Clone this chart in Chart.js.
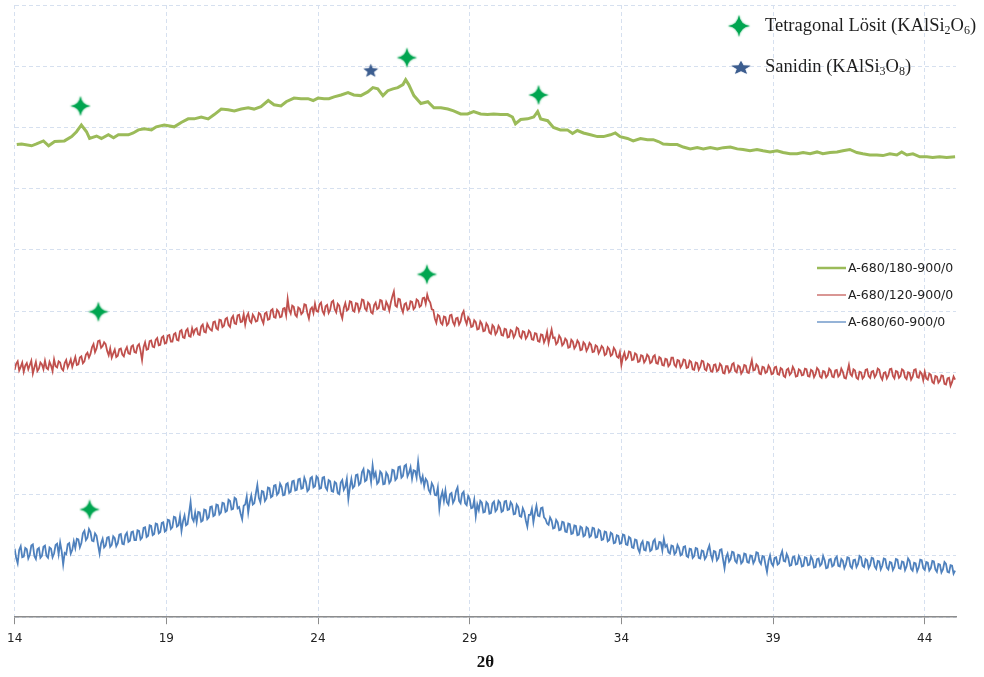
<!DOCTYPE html>
<html lang="tr">
<head>
  <meta charset="UTF-8">
  <title>XRD - A-680 serisi</title>
  <script src="https://cdn.jsdelivr.net/npm/chart.js"></script>
  <style>
    body {
      margin: 0;
      background-color: #FFFFFF;
    }
    canvas {
      display: block;
    }
  </style>
</head>
<body>
  <canvas id="xrdChart" width="984" height="677"></canvas>

  <script>
    // 2θ tick labels on the x axis
    const thetaTicks = [14, 19, 24, 29, 34, 39, 44];

    // A-680/180-900/0 (green trace), read at uneven 2θ steps
    const greenTheta = [
      14.07, 14.23, 14.56, 14.72, 14.95, 15.12, 15.32, 15.64, 15.88, 16.04,
      16.20, 16.37, 16.47, 16.70, 16.86, 17.09, 17.26, 17.42, 17.75, 17.91,
      18.08, 18.28, 18.51, 18.67, 18.93, 19.26, 19.49, 19.72, 19.92, 20.15,
      20.38, 20.58, 20.81, 21.04, 21.24, 21.47, 21.70, 21.89, 22.12, 22.36,
      22.55, 22.78, 22.95, 23.21, 23.44, 23.67, 23.84, 24.00, 24.20, 24.36,
      24.53, 24.76, 24.99, 25.18, 25.41, 25.64, 25.81, 25.97, 26.14, 26.30,
      26.47, 26.63, 26.80, 26.89, 26.99, 27.16, 27.39, 27.62, 27.82, 28.05,
      28.28, 28.47, 28.70, 28.93, 29.13, 29.36, 29.59, 29.79, 30.02, 30.25,
      30.41, 30.51, 30.68, 30.91, 31.11, 31.24, 31.34, 31.57, 31.76, 31.99,
      32.22, 32.39, 32.55, 32.75, 32.98, 33.21, 33.41, 33.64, 33.80, 33.96,
      34.20, 34.39, 34.63, 34.86, 35.05, 35.22, 35.38, 35.61, 35.84, 36.04,
      36.27, 36.50, 36.70, 36.93, 37.16, 37.36, 37.59, 37.82, 38.01, 38.24,
      38.47, 38.67, 38.90, 39.13, 39.33, 39.56, 39.79, 39.99, 40.22, 40.45,
      40.64, 40.88, 41.11, 41.30, 41.53, 41.76, 41.96, 42.19, 42.42, 42.62,
      42.85, 43.08, 43.24, 43.41, 43.61, 43.84, 44.07, 44.26, 44.49, 44.72,
      45.00
    ];
    const greenCounts = [
      772, 773, 770, 773, 778, 770, 777, 778, 785, 793,
      804, 793, 782, 786, 782, 788, 783, 788, 788, 791,
      796, 798, 796, 801, 804, 801, 808, 814, 814, 817,
      814, 821, 830, 829, 827, 830, 832, 830, 834, 844,
      837, 835, 842, 848, 847, 847, 844, 848, 847, 847,
      850, 853, 857, 853, 852, 858, 865, 863, 852, 860,
      863, 865, 870, 878, 870, 852, 839, 842, 832, 832,
      830, 827, 822, 822, 826, 822, 821, 822, 821, 821,
      817, 806, 813, 814, 817, 826, 814, 811, 800, 796,
      796, 790, 795, 791, 788, 785, 785, 788, 791, 785,
      782, 778, 782, 780, 780, 777, 773, 772, 772, 768,
      765, 767, 765, 767, 765, 767, 768, 765, 764, 762,
      764, 762, 760, 762, 759, 757, 757, 759, 757, 760,
      757, 759, 760, 762, 764, 759, 757, 755, 755, 754,
      757, 755, 760, 755, 757, 752, 752, 751, 752, 751,
      752
    ];

    // red and blue traces: one reading every 0.05° from 14.00 to 45.00
    // (each row below is one degree)
    const scanStart = 14;
    const scanStep = 0.05;

    // A-680/120-900/0
    const redCounts = [
      404, 414, 418, 403, 409, 416, 401, 411, 415, 405, 412, 419, 398, 408, 417, 402, 406, 416, 413, 405,
      419, 407, 405, 417, 411, 402, 421, 410, 408, 418, 416, 406, 403, 415, 420, 408, 414, 421, 409, 417,
      425, 412, 413, 424, 426, 415, 418, 429, 432, 424, 430, 441, 446, 433, 439, 451, 452, 440, 443, 449,
      446, 435, 428, 439, 424, 431, 437, 425, 427, 438, 439, 429, 426, 436, 441, 431, 430, 442, 444, 433,
      432, 443, 446, 435, 420, 441, 449, 437, 438, 451, 452, 442, 441, 453, 456, 444, 445, 457, 459, 447,
      448, 460, 461, 450, 450, 462, 464, 453, 452, 467, 469, 457, 456, 468, 471, 459, 458, 472, 463, 470,
      472, 462, 461, 475, 478, 466, 465, 479, 474, 470, 468, 482, 483, 472, 470, 486, 485, 474, 476, 487,
      489, 477, 474, 488, 492, 480, 479, 493, 494, 482, 483, 495, 478, 491, 496, 484, 481, 494, 490, 483,
      484, 497, 495, 486, 480, 496, 498, 486, 487, 501, 503, 490, 489, 502, 499, 490, 491, 504, 505, 493,
      520, 502, 496, 509, 507, 494, 491, 506, 504, 495, 498, 511, 510, 497, 488, 503, 506, 497, 512, 500,
      499, 511, 514, 500, 495, 508, 510, 497, 502, 515, 517, 503, 498, 512, 509, 496, 488, 505, 513, 501,
      503, 516, 515, 501, 499, 513, 512, 500, 506, 519, 518, 504, 501, 514, 511, 498, 496, 510, 514, 503,
      505, 518, 517, 503, 502, 515, 510, 501, 514, 524, 532, 509, 507, 520, 519, 505, 498, 511, 513, 502,
      504, 516, 515, 503, 506, 519, 517, 507, 509, 521, 522, 512, 527, 518, 514, 503, 502, 488, 481, 494,
      492, 481, 478, 491, 490, 477, 480, 493, 494, 482, 477, 488, 489, 478, 483, 495, 500, 486, 479, 490,
      486, 474, 475, 485, 482, 470, 471, 483, 479, 467, 468, 480, 476, 465, 463, 477, 474, 462, 466, 476,
      472, 461, 460, 471, 470, 457, 458, 469, 467, 457, 462, 473, 471, 459, 456, 467, 466, 455, 459, 468,
      465, 454, 453, 464, 463, 451, 450, 462, 461, 449, 455, 466, 448, 459, 470, 456, 457, 446, 449, 460,
      456, 444, 447, 455, 452, 440, 441, 453, 450, 439, 443, 452, 448, 436, 437, 449, 446, 435, 440, 448,
      445, 433, 434, 444, 442, 431, 436, 443, 440, 428, 430, 441, 438, 427, 429, 440, 436, 426, 424, 433,
      412, 425, 432, 421, 424, 434, 433, 420, 421, 431, 429, 417, 418, 428, 427, 416, 420, 429, 426, 415,
      417, 426, 428, 415, 414, 425, 423, 412, 411, 422, 421, 410, 413, 424, 424, 412, 409, 420, 419, 408,
      412, 421, 420, 407, 408, 419, 417, 405, 404, 416, 415, 404, 409, 419, 418, 405, 403, 414, 412, 402,
      401, 412, 413, 402, 404, 414, 411, 399, 398, 410, 410, 400, 403, 413, 415, 402, 400, 411, 409, 398,
      402, 412, 411, 400, 399, 410, 420, 403, 404, 413, 410, 398, 397, 409, 408, 399, 401, 411, 407, 397,
      398, 408, 409, 397, 396, 407, 405, 394, 392, 404, 406, 396, 399, 409, 404, 393, 394, 405, 403, 395,
      396, 406, 405, 394, 393, 404, 402, 392, 397, 407, 404, 393, 391, 402, 401, 392, 395, 406, 403, 393,
      392, 403, 404, 393, 396, 406, 401, 391, 390, 401, 412, 397, 394, 405, 403, 391, 389, 401, 400, 390,
      393, 404, 405, 394, 391, 401, 402, 392, 396, 406, 404, 393, 388, 399, 400, 390, 395, 405, 406, 394,
      390, 402, 401, 391, 394, 405, 403, 392, 389, 400, 399, 388, 393, 404, 405, 392, 391, 401, 398, 387,
      401, 390, 388, 398, 396, 384, 382, 394, 393, 383, 386, 395, 394, 381, 380, 390, 391, 378, 384, 393,
      388
    ];

    // A-680/60-900/0
    const blueCounts = [
      112, 97, 88, 110, 116, 98, 99, 113, 111, 96, 102, 117, 119, 100, 95, 111, 113, 97, 100, 115,
      117, 100, 97, 114, 112, 98, 104, 118, 120, 103, 122, 108, 86, 105, 103, 119, 121, 104, 110, 124,
      113, 128, 127, 114, 121, 137, 141, 126, 130, 144, 139, 125, 124, 137, 133, 118, 104, 121, 128, 114,
      117, 130, 131, 115, 118, 132, 129, 116, 121, 135, 136, 120, 119, 134, 138, 123, 125, 139, 140, 126,
      126, 142, 141, 127, 130, 146, 147, 131, 133, 150, 149, 134, 136, 153, 152, 137, 139, 154, 155, 140,
      142, 159, 158, 144, 147, 164, 163, 148, 150, 165, 141, 157, 166, 150, 152, 170, 188, 162, 157, 171,
      155, 172, 171, 156, 158, 176, 175, 160, 163, 180, 181, 165, 167, 184, 183, 168, 171, 187, 186, 172,
      174, 192, 190, 176, 177, 195, 193, 178, 180, 169, 160, 182, 184, 197, 171, 188, 199, 184, 186, 202,
      216, 195, 188, 206, 205, 190, 194, 212, 211, 196, 198, 215, 216, 200, 203, 218, 213, 199, 200, 217,
      219, 203, 205, 222, 223, 207, 208, 225, 226, 210, 211, 228, 221, 206, 209, 227, 229, 212, 214, 230,
      227, 210, 211, 228, 229, 212, 208, 224, 222, 206, 205, 221, 219, 203, 201, 220, 224, 208, 213, 226,
      193, 212, 226, 211, 214, 232, 233, 216, 219, 237, 242, 222, 224, 240, 238, 221, 248, 229, 236, 218,
      221, 238, 235, 217, 218, 236, 232, 219, 223, 241, 240, 224, 227, 245, 246, 228, 231, 247, 249, 230,
      236, 245, 226, 240, 239, 228, 254, 232, 221, 230, 214, 226, 222, 208, 203, 219, 214, 200, 199, 212,
      177, 196, 205, 190, 207, 188, 184, 201, 203, 187, 192, 206, 212, 190, 186, 202, 205, 186, 183, 198,
      193, 178, 179, 192, 165, 184, 175, 190, 187, 171, 172, 188, 185, 169, 170, 186, 189, 173, 176, 190,
      187, 172, 174, 189, 190, 175, 176, 188, 184, 168, 169, 184, 180, 165, 164, 178, 172, 158, 148, 167,
      167, 177, 155, 170, 182, 166, 165, 178, 179, 163, 160, 153, 151, 163, 158, 145, 146, 159, 155, 142,
      143, 156, 155, 140, 139, 153, 152, 136, 137, 150, 149, 134, 135, 148, 146, 132, 134, 147, 145, 131,
      133, 146, 145, 130, 131, 143, 141, 126, 127, 140, 139, 124, 126, 138, 136, 121, 122, 134, 133, 120,
      121, 135, 134, 119, 118, 131, 129, 114, 113, 127, 126, 112, 106, 120, 124, 110, 109, 123, 122, 108,
      110, 124, 127, 111, 112, 123, 122, 109, 128, 115, 118, 106, 104, 117, 116, 103, 106, 118, 113, 101,
      103, 115, 116, 100, 98, 112, 111, 97, 100, 113, 112, 97, 96, 109, 108, 95, 99, 110, 117, 102,
      94, 108, 107, 93, 97, 110, 111, 95, 80, 98, 104, 91, 95, 107, 106, 92, 89, 102, 101, 88,
      91, 104, 103, 90, 89, 101, 100, 88, 93, 106, 105, 91, 87, 100, 99, 86, 74, 92, 101, 88,
      84, 97, 98, 86, 88, 101, 108, 92, 91, 103, 97, 84, 85, 98, 99, 86, 87, 100, 95, 83,
      84, 98, 97, 85, 86, 99, 94, 81, 82, 95, 96, 84, 87, 100, 93, 80, 81, 94, 95, 83,
      85, 96, 99, 84, 83, 95, 92, 80, 86, 98, 97, 83, 80, 93, 94, 82, 87, 100, 98, 84,
      82, 95, 93, 80, 85, 97, 96, 83, 79, 92, 91, 78, 84, 96, 95, 81, 78, 90, 89, 77,
      82, 95, 94, 80, 79, 91, 90, 77, 83, 96, 92, 79, 76, 89, 88, 75, 81, 94, 93, 80,
      77, 90, 89, 76, 80, 92, 91, 78, 74, 87, 86, 73, 78, 90, 87, 74, 73, 85, 84, 71,
      76
    ];

    // phase markers placed over the peaks
    const leuciteTheta = [16.17, 26.93, 31.27, 16.76, 27.59, 16.47];
    const leuciteCounts = [835, 914, 853, 499, 560, 176];
    const sanidinTheta = [25.74];
    const sanidinCounts = [894];

    const seriesLabels = ['A-680/180-900/0', 'A-680/120-900/0', 'A-680/60-900/0'];
    const seriesColors = ['#9BBB59', '#C0504D', '#4F81BD'];

    const gridColor = '#D6E0EF';
    const axisColor = '#8C8C8C';

    function toPoints(xs, ys) {
      return ys.map((y, i) => ({ x: xs[i], y: y }));
    }
    function scanPoints(ys) {
      return ys.map((y, i) => ({ x: +(scanStart + i * scanStep).toFixed(2), y: y }));
    }

    // four-pointed sparkle (tetragonal leucite)
    function makeSparkle(size, color) {
      const c = document.createElement('canvas');
      c.width = c.height = size;
      const g = c.getContext('2d');
      const r = size / 2 - 1;
      const k = r * 0.1;
      g.translate(size / 2, size / 2);
      g.fillStyle = color;
      g.shadowColor = color;
      g.shadowBlur = 2;
      g.beginPath();
      g.moveTo(0, -r);
      g.quadraticCurveTo(k, -k, r, 0);
      g.quadraticCurveTo(k, k, 0, r);
      g.quadraticCurveTo(-k, k, -r, 0);
      g.quadraticCurveTo(-k, -k, 0, -r);
      g.closePath();
      g.fill();
      return c;
    }

    // five-pointed star (sanidine)
    function makeStar(w, h, color) {
      const c = document.createElement('canvas');
      c.width = w;
      c.height = h;
      const g = c.getContext('2d');
      const ro = w / 2 - 1;
      const ri = ro * 0.42;
      g.translate(w / 2, h / 2 + 1);
      g.scale(1, (h - 2) / (w - 2));
      g.fillStyle = color;
      g.shadowColor = color;
      g.shadowBlur = 1;
      g.beginPath();
      for (let i = 0; i < 10; i++) {
        const rad = i % 2 === 0 ? ro : ri;
        const a = -Math.PI / 2 + i * Math.PI / 5;
        const px = Math.cos(a) * rad;
        const py = Math.sin(a) * rad;
        if (i === 0) g.moveTo(px, py); else g.lineTo(px, py);
      }
      g.closePath();
      g.fill();
      return c;
    }

    const sparkleImg = makeSparkle(22, '#00A550');
    const starImg = makeStar(17, 16, '#3C5D8F');
    const sparkleKey = makeSparkle(24, '#00A550');
    const starKey = makeStar(22, 16, '#3C5D8F');

    // text with subscript digits
    function drawRich(ctx, parts, x, y, size) {
      ctx.textBaseline = 'middle';
      ctx.textAlign = 'left';
      ctx.fillStyle = '#1E1E1E';
      parts.forEach(p => {
        const sub = typeof p === 'object';
        const t = sub ? p.sub : p;
        ctx.font = (sub ? Math.round(size * 0.66) : size) + 'px "Liberation Serif", "Times New Roman", serif';
        ctx.fillText(t, x, sub ? y + size * 0.24 : y);
        x += ctx.measureText(t).width;
      });
    }

    const keysPlugin = {
      id: 'keys',
      afterDraw(chart) {
        const ctx = chart.ctx;
        ctx.save();
        // phase key, top right
        ctx.drawImage(sparkleKey, 739 - 12, 26 - 12);
        drawRich(ctx, ['Tetragonal Lösit (KAlSi', { sub: '2' }, 'O', { sub: '6' }, ')'], 765, 26, 18.5);
        ctx.drawImage(starKey, 741 - 11, 67 - 8);
        drawRich(ctx, ['Sanidin (KAlSi', { sub: '3' }, 'O', { sub: '8' }, ')'], 765, 67, 18.5);

        // series key
        const rows = [268, 295, 322];
        chart.data.datasets.slice(0, 3).forEach((ds, i) => {
          ctx.strokeStyle = ds.borderColor;
          ctx.lineWidth = i === 0 ? 2.5 : 1.2;
          ctx.beginPath();
          ctx.moveTo(817, rows[i]);
          ctx.lineTo(846, rows[i]);
          ctx.stroke();
          ctx.fillStyle = '#222222';
          ctx.font = '12.5px "DejaVu Sans", Tahoma, sans-serif';
          ctx.textBaseline = 'middle';
          ctx.textAlign = 'left';
          ctx.fillText(ds.label, 848, rows[i] + 1);
        });
        ctx.restore();
      }
    };

    new Chart(document.getElementById('xrdChart'), {
      type: 'line',
      data: {
        datasets: [
          {
            label: seriesLabels[0],
            data: toPoints(greenTheta, greenCounts),
            borderColor: seriesColors[0],
            borderWidth: 3,
            pointRadius: 0,
            order: 3
          },
          {
            label: seriesLabels[1],
            data: scanPoints(redCounts),
            borderColor: seriesColors[1],
            borderWidth: 1.8,
            pointRadius: 0,
            order: 2
          },
          {
            label: seriesLabels[2],
            data: scanPoints(blueCounts),
            borderColor: seriesColors[2],
            borderWidth: 1.8,
            pointRadius: 0,
            order: 1
          },
          {
            type: 'scatter',
            label: 'Tetragonal Lösit',
            data: toPoints(leuciteTheta, leuciteCounts),
            pointStyle: sparkleImg,
            order: 0
          },
          {
            type: 'scatter',
            label: 'Sanidin',
            data: toPoints(sanidinTheta, sanidinCounts),
            pointStyle: starImg,
            order: 0
          }
        ]
      },
      options: {
        responsive: false,
        animation: false,
        devicePixelRatio: 1,
        layout: {
          padding: { left: 13, right: 28, top: -3, bottom: 4 }
        },
        plugins: {
          legend: { display: false },
          tooltip: { enabled: false }
        },
        scales: {
          x: {
            type: 'linear',
            min: 14,
            max: 45.03,
            afterBuildTicks: axis => {
              axis.ticks = thetaTicks.map(v => ({ value: v }));
            },
            grid: {
              color: gridColor,
              tickColor: axisColor,
              tickLength: 7,
              tickBorderDash: []
            },
            border: {
              color: axisColor,
              width: 1.5,
              dash: [4, 3]
            },
            ticks: {
              color: '#222222',
              padding: 7,
              maxRotation: 0,
              font: { family: '"DejaVu Sans", Tahoma, sans-serif', size: 12 }
            },
            title: {
              display: true,
              text: '2θ',
              color: '#111111',
              padding: { top: 0, bottom: 0 },
              font: { family: '"Liberation Serif", "Times New Roman", serif', size: 17, weight: 'bold' }
            }
          },
          y: {
            min: 0,
            max: 1000,
            ticks: { display: false, stepSize: 100 },
            grid: {
              color: gridColor,
              drawTicks: false
            },
            border: {
              display: false,
              dash: [4, 3]
            }
          }
        }
      },
      plugins: [keysPlugin]
    });
  </script>
</body>
</html>
